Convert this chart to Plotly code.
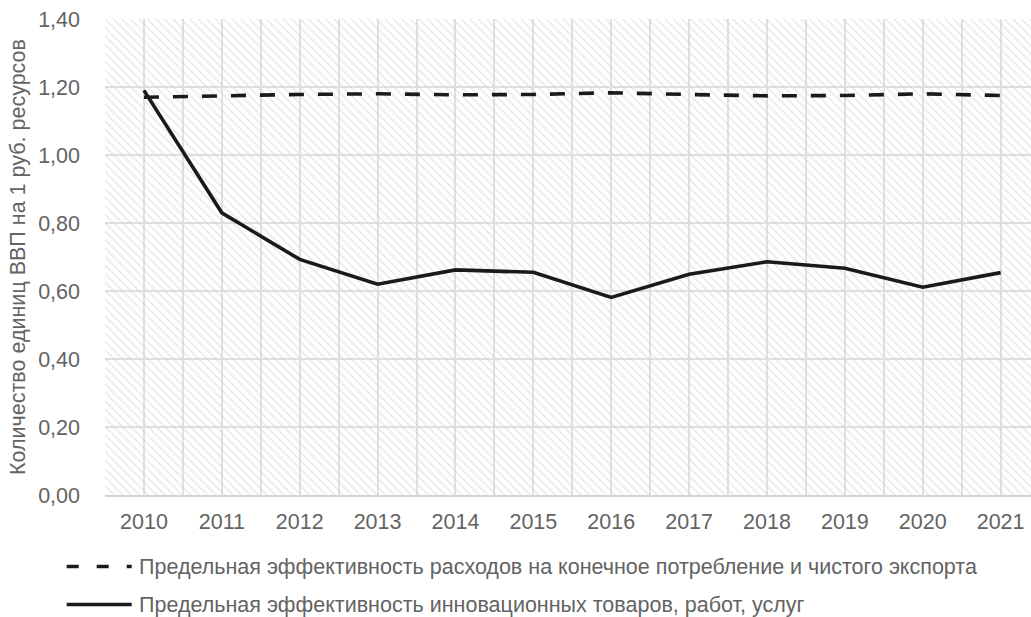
import plotly.graph_objects as go

# Series data
years = [2010, 2011, 2012, 2013, 2014, 2015, 2016, 2017, 2018, 2019, 2020, 2021]
consumption_export = [1.17, 1.175, 1.178, 1.18, 1.177, 1.178, 1.183, 1.178, 1.174, 1.175, 1.18, 1.175]
innovation = [1.19, 0.83, 0.693, 0.62, 0.662, 0.655, 0.581, 0.649, 0.686, 0.667, 0.611, 0.654]

series_names = [
    "Предельная эффективность расходов на конечное потребление и чистого экспорта",
    "Предельная эффективность инновационных товаров, работ, услуг",
]
y_title = "Количество единиц ВВП на 1 руб. ресурсов"
y_max = 1.4

FONT = "Liberation Sans, Arial, sans-serif"
FS = 21.5
TEXT = "#636363"
LINE = "#1a1a1a"
GRID = "#e0e0e0"

x_lo = years[0] - 0.5
x_hi = years[-1] + 0.39

fig = go.Figure()

# Hatched plot-area background
fig.add_trace(go.Scatter(
    x=[x_lo, x_hi + 1, x_hi + 1, x_lo, x_lo],
    y=[0, 0, y_max, y_max, 0],
    mode="lines", fill="toself",
    line=dict(width=0, color="rgba(0,0,0,0)"),
    fillcolor="rgba(0,0,0,0)",
    fillpattern=dict(shape="\\", fgcolor="#d2d2d2", bgcolor="rgba(255,255,255,0)",
                     size=6, solidity=0.25),
    hoverinfo="skip", showlegend=False,
))

fig.add_trace(go.Scatter(
    x=years, y=consumption_export, mode="lines", name=series_names[0],
    line=dict(color=LINE, width=3.6, dash="15px,14px"), showlegend=False,
))
fig.add_trace(go.Scatter(
    x=years, y=innovation, mode="lines", name=series_names[1],
    line=dict(color=LINE, width=3.6), showlegend=False,
))

# Legend drawn below the plot area
PLOT_L, PLOT_W = 105, 926
PLOT_B, PLOT_H = 495.5, 476


def px_x(p):
    return (p - PLOT_L) / PLOT_W


def px_y(p):
    return (PLOT_B - p) / PLOT_H


legend_rows = [(567, "12px,18px"), (605, "solid")]
for (row_y, dash), name in zip(legend_rows, series_names):
    fig.add_shape(type="line", xref="paper", yref="paper",
                  x0=px_x(66.7), x1=px_x(131.7), y0=px_y(row_y), y1=px_y(row_y),
                  line=dict(color=LINE, width=3.6, dash=dash))
    fig.add_annotation(xref="paper", yref="paper", x=px_x(137), y=px_y(row_y),
                       xanchor="left", yanchor="middle", showarrow=False,
                       text=name, font=dict(family=FONT, size=FS, color=TEXT))

fig.update_layout(
    width=1031, height=617,
    margin=dict(l=105, r=0, t=19, b=122, pad=0),
    paper_bgcolor="white", plot_bgcolor="white",
    separators=", ",
    font=dict(family=FONT, size=FS, color=TEXT),
    showlegend=False,
)
fig.update_xaxes(
    range=[x_lo, x_hi], tickmode="array", tickvals=years,
    ticktext=[str(y) for y in years],
    showgrid=True, gridcolor=GRID, gridwidth=2,
    minor=dict(dtick=0.5, tick0=x_lo, showgrid=True, gridcolor=GRID, gridwidth=2),
    showline=True, linecolor="#d4d4d4", linewidth=2,
    ticks="", ticklabelstandoff=6,
    tickfont=dict(family=FONT, size=FS, color=TEXT),
)
fig.update_yaxes(
    range=[0, y_max], dtick=0.2, tick0=0, tickformat=".2f",
    showgrid=True, gridcolor=GRID, gridwidth=2, zeroline=False,
    ticks="", ticklabelstandoff=24,
    tickfont=dict(family=FONT, size=FS, color=TEXT),
    title=dict(text=y_title, font=dict(family=FONT, size=FS, color=TEXT), standoff=6),
)

fig.write_html("out.html")
